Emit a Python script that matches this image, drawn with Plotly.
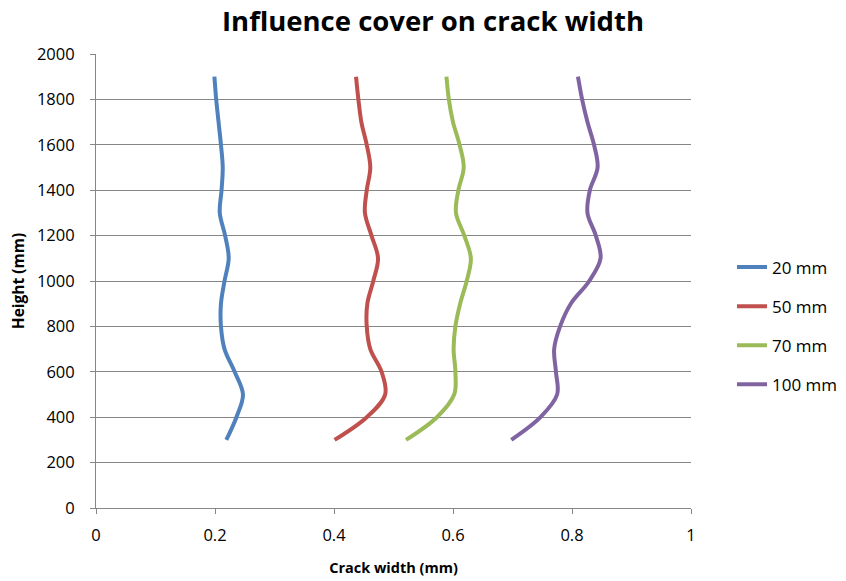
import plotly.graph_objects as go

# Height positions along the member (mm)
height = [300, 400, 500, 600, 700, 800, 900, 1000, 1100, 1200,
          1300, 1400, 1500, 1600, 1700, 1800, 1900]

# Crack width (mm) for each concrete cover
cover_20 = [0.219, 0.236, 0.247, 0.233, 0.216, 0.210, 0.210, 0.216, 0.223, 0.217,
            0.208, 0.211, 0.213, 0.210, 0.206, 0.202, 0.199]
cover_50 = [0.401, 0.455, 0.486, 0.480, 0.461, 0.455, 0.456, 0.466, 0.474, 0.463,
            0.452, 0.455, 0.461, 0.455, 0.446, 0.441, 0.437]
cover_70 = [0.521, 0.573, 0.602, 0.604, 0.601, 0.604, 0.612, 0.623, 0.630, 0.619,
            0.605, 0.609, 0.618, 0.611, 0.600, 0.593, 0.589]
cover_100 = [0.698, 0.747, 0.775, 0.773, 0.770, 0.780, 0.798, 0.829, 0.848, 0.840,
             0.826, 0.830, 0.843, 0.837, 0.826, 0.817, 0.810]

series = [
    ("20 mm", cover_20, "#4F81BD"),
    ("50 mm", cover_50, "#C0504D"),
    ("70 mm", cover_70, "#9BBB59"),
    ("100 mm", cover_100, "#8064A2"),
]

FONT = "'Open Sans', Lato, sans-serif"

fig = go.Figure()
for i, (name, widths, color) in enumerate(series):
    fig.add_trace(go.Scatter(
        x=widths, y=height, name=name, mode="lines",
        line=dict(color=color, width=4, shape="spline", smoothing=1),
        legendgroup=f"g{i}",
    ))

fig.update_layout(
    width=846, height=581,
    margin=dict(l=96, r=155, t=54, b=73, autoexpand=False),
    paper_bgcolor="white", plot_bgcolor="white",
    font=dict(family=FONT, size=16, color="#000000"),
    title=dict(
        text="<b>Influence cover on crack width</b>",
        x=433 / 846, xref="container", xanchor="center",
        y=1 - 21 / 581, yref="container", yanchor="middle",
        font=dict(size=27.5, family=FONT, color="#000000"),
    ),
    showlegend=True,
    legend=dict(
        x=732 / 846, xref="container", xanchor="left",
        y=1 - 326 / 581, yref="container", yanchor="middle",
        font=dict(size=17, family=FONT),
        tracegroupgap=14, bgcolor="rgba(0,0,0,0)",
        itemwidth=30,
    ),
)

fig.update_xaxes(
    range=[0, 1], tickvals=[0, 0.2, 0.4, 0.6, 0.8, 1],
    ticktext=["0", "0.2", "0.4", "0.6", "0.8", "1"],
    showgrid=False, zeroline=False, automargin=False,
    showline=True, linecolor="#868686", linewidth=1,
    ticks="outside", ticklen=5, tickcolor="#868686",
    tickfont=dict(size=16.5), ticklabelstandoff=7,
    title=dict(text="<b>Crack width (mm)</b>", font=dict(size=14.5), standoff=18),
)
fig.update_yaxes(
    range=[0, 2000], tickvals=list(range(0, 2001, 200)),
    showgrid=True, gridcolor="#868686", gridwidth=1, zeroline=False,
    automargin=False,
    showline=True, linecolor="#868686", linewidth=1,
    ticks="outside", ticklen=5, tickcolor="#868686",
    tickfont=dict(size=16.5), ticklabelstandoff=12,
    title=dict(text="<b>Height (mm)</b>", font=dict(size=15.5), standoff=8),
)

fig.write_html("out.html")
